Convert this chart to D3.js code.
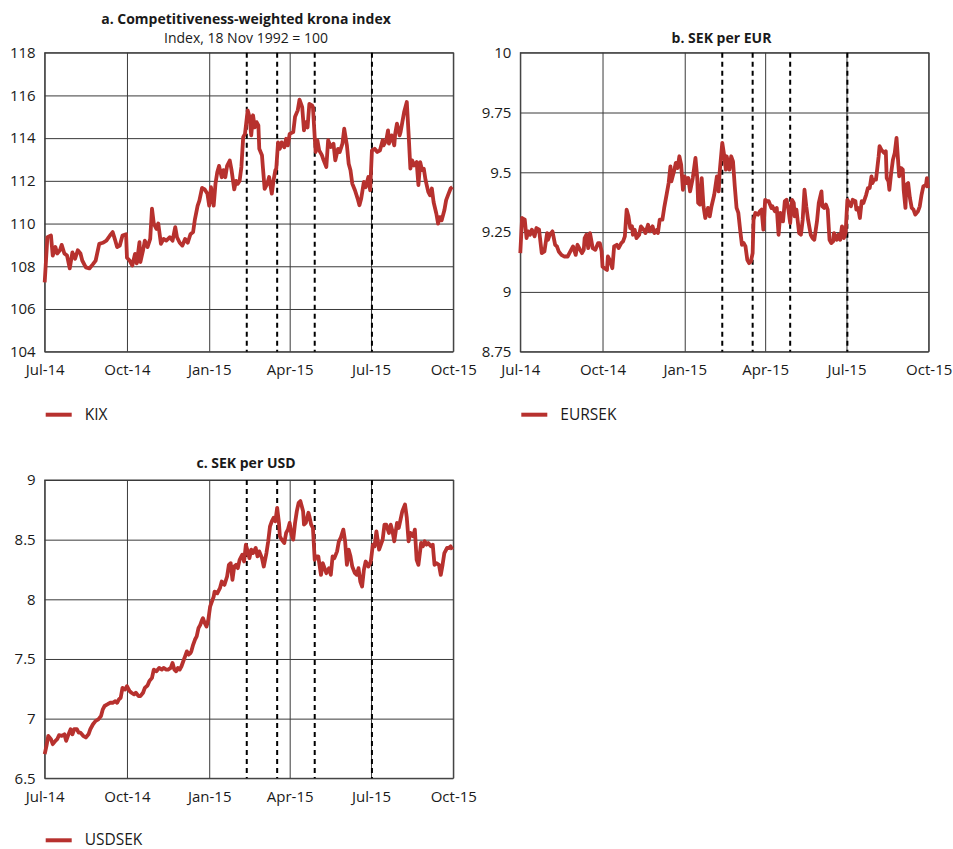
<!DOCTYPE html>
<html>
<head>
<meta charset="utf-8">
<script src="https://cdn.jsdelivr.net/npm/d3@7"></script>
<style>
  body { margin: 0; background: #fff; }
  text { font-family: "Open Sans", "DejaVu Sans", sans-serif; fill: #1a1a1a; }
</style>
</head>
<body>
<script>
// series: [days since 1 Jul 2014, value]
var kix = [[0,107.25],[3,109.36],[7,109.44],[9,108.5],[12,108.9],[14,108.6],[17,108.75],[19,109.0],[22,108.6],[25,108.5],[28,107.9],[31,108.65],[34,108.35],[37,108.75],[40,108.6],[42,108.27],[46,107.95],[50,107.9],[54,108.1],[57,108.27],[61,109.05],[65,109.1],[69,109.2],[73,109.44],[76,109.6],[79,109.2],[81,108.9],[84,108.97],[87,109.44],[91,109.5],[92,108.4],[95,108.27],[98,108.03],[101,108.58],[103,108.14],[106,109.13],[107,108.2],[110,108.75],[112,109.2],[115,108.9],[118,109.28],[120,110.7],[122,110.0],[125,109.75],[127,110.0],[130,109.05],[133,109.28],[136,109.2],[140,109.36],[143,109.2],[146,109.83],[148,109.36],[151,109.1],[154,108.97],[157,109.28],[160,109.1],[163,109.5],[166,109.6],[168,110.2],[171,110.83],[173,111.07],[176,111.67],[179,111.6],[182,111.4],[184,110.84],[186,111.7],[189,110.84],[191,111.86],[193,112.4],[195,112.7],[198,112.17],[200,112.5],[202,112.17],[204,112.7],[207,112.95],[209,112.5],[212,111.6],[214,112.0],[216,111.86],[218,112.0],[220,112.65],[222,114.05],[224,114.2],[227,115.3],[229,115.0],[231,114.13],[233,115.07],[235,114.5],[237,114.75],[239,114.6],[240,113.5],[243,113.2],[244,112.65],[246,111.63],[249,111.87],[251,112.18],[254,111.4],[256,112.03],[258,112.5],[259,112.57],[261,113.8],[263,113.5],[265,113.8],[268,113.57],[270,113.97],[272,113.66],[274,114.2],[278,114.28],[280,115.0],[283,115.3],[285,115.8],[288,115.45],[290,114.36],[292,114.75],[294,114.5],[296,115.6],[299,115.53],[300,115.45],[302,114.05],[303,113.35],[305,113.9],[307,113.43],[310,113.2],[312,112.96],[315,112.65],[317,113.9],[320,113.58],[323,113.74],[325,112.96],[328,113.5],[330,113.35],[333,113.74],[335,114.44],[338,113.66],[340,112.8],[342,112.5],[344,111.87],[347,111.56],[350,111.17],[352,110.86],[354,111.17],[357,111.95],[359,111.7],[362,112.18],[364,111.56],[366,113.43],[369,113.5],[372,113.35],[375,113.43],[378,113.9],[379,113.66],[382,113.9],[384,114.36],[385,113.74],[388,114.13],[391,113.66],[392,114.2],[394,114.68],[397,114.13],[398,114.28],[400,114.75],[402,115.22],[405,115.69],[407,114.2],[409,112.57],[411,112.96],[413,112.72],[416,112.88],[418,111.8],[420,112.88],[422,112.5],[424,112.57],[426,112.03],[429,111.48],[431,111.32],[433,111.64],[435,111.0],[438,110.47],[440,110.0],[442,110.3],[444,110.15],[447,110.62],[449,111.1],[451,111.32],[454,111.64],[456,111.71]];

var eursek = [[0,9.162],[2,9.309],[5,9.302],[7,9.225],[9,9.253],[11,9.239],[13,9.26],[16,9.232],[18,9.267],[21,9.26],[24,9.162],[27,9.169],[30,9.246],[31,9.218],[33,9.239],[36,9.253],[39,9.197],[41,9.19],[43,9.169],[46,9.155],[49,9.148],[53,9.148],[56,9.169],[59,9.19],[62,9.155],[64,9.197],[67,9.176],[69,9.162],[71,9.176],[72,9.225],[74,9.239],[76,9.183],[78,9.246],[81,9.183],[84,9.176],[87,9.204],[89,9.204],[91,9.169],[92,9.106],[94,9.099],[97,9.092],[98,9.148],[100,9.134],[103,9.099],[105,9.19],[108,9.197],[110,9.183],[113,9.204],[115,9.211],[117,9.232],[119,9.344],[121,9.316],[123,9.267],[125,9.274],[126,9.239],[128,9.26],[130,9.225],[133,9.239],[135,9.274],[138,9.26],[140,9.246],[143,9.281],[145,9.253],[148,9.274],[150,9.246],[153,9.26],[154,9.246],[156,9.302],[159,9.302],[161,9.351],[164,9.413],[166,9.455],[168,9.525],[169,9.462],[172,9.504],[174,9.539],[176,9.518],[178,9.567],[180,9.532],[182,9.427],[184,9.483],[186,9.455],[188,9.476],[190,9.42],[193,9.476],[195,9.532],[196,9.56],[198,9.476],[199,9.372],[201,9.365],[203,9.476],[205,9.358],[207,9.309],[210,9.351],[212,9.316],[214,9.358],[217,9.406],[220,9.483],[222,9.42],[223,9.497],[226,9.623],[228,9.574],[230,9.511],[231,9.567],[234,9.511],[236,9.567],[238,9.546],[240,9.441],[242,9.351],[244,9.33],[246,9.26],[248,9.197],[250,9.204],[252,9.19],[254,9.134],[256,9.12],[258,9.127],[260,9.162],[261,9.302],[263,9.33],[266,9.323],[268,9.337],[270,9.344],[272,9.26],[274,9.385],[276,9.379],[278,9.379],[281,9.351],[282,9.358],[285,9.337],[287,9.351],[289,9.239],[291,9.33],[293,9.316],[294,9.295],[296,9.379],[298,9.385],[300,9.344],[302,9.288],[304,9.385],[306,9.372],[307,9.316],[309,9.344],[312,9.246],[314,9.239],[316,9.302],[318,9.427],[320,9.358],[322,9.302],[325,9.239],[327,9.225],[329,9.218],[332,9.295],[334,9.372],[337,9.42],[338,9.358],[340,9.351],[342,9.365],[344,9.344],[346,9.218],[348,9.204],[350,9.211],[351,9.246],[354,9.218],[356,9.239],[358,9.218],[360,9.274],[362,9.225],[364,9.246],[366,9.385],[368,9.372],[370,9.358],[372,9.385],[375,9.379],[376,9.344],[378,9.351],[380,9.309],[382,9.379],[384,9.372],[387,9.406],[389,9.434],[391,9.434],[393,9.483],[394,9.455],[396,9.469],[398,9.469],[401,9.567],[402,9.609],[404,9.595],[407,9.581],[409,9.588],[410,9.476],[412,9.462],[413,9.427],[415,9.497],[417,9.553],[419,9.581],[421,9.644],[422,9.588],[424,9.483],[426,9.518],[428,9.511],[429,9.427],[431,9.351],[432,9.448],[434,9.455],[436,9.392],[438,9.351],[440,9.344],[442,9.323],[445,9.337],[447,9.358],[449,9.406],[451,9.441],[454,9.448],[455,9.476],[456,9.434]];

var usdsek = [[0,6.703],[2,6.772],[4,6.856],[7,6.828],[9,6.786],[12,6.814],[14,6.828],[16,6.861],[19,6.856],[22,6.869],[24,6.814],[26,6.856],[29,6.911],[31,6.869],[33,6.911],[36,6.911],[38,6.883],[40,6.883],[43,6.856],[46,6.842],[49,6.869],[51,6.911],[54,6.953],[57,6.981],[60,6.994],[63,7.022],[65,7.078],[67,7.106],[70,7.119],[73,7.133],[76,7.133],[79,7.147],[81,7.133],[83,7.161],[85,7.175],[87,7.258],[90,7.244],[92,7.272],[95,7.231],[97,7.217],[100,7.203],[102,7.217],[105,7.189],[107,7.189],[110,7.217],[112,7.258],[115,7.278],[117,7.314],[120,7.342],[122,7.411],[125,7.397],[128,7.425],[131,7.411],[133,7.425],[136,7.411],[138,7.411],[141,7.425],[143,7.467],[145,7.411],[147,7.397],[149,7.425],[151,7.411],[153,7.439],[155,7.481],[157,7.522],[159,7.564],[161,7.536],[163,7.55],[164,7.564],[166,7.619],[168,7.661],[170,7.689],[172,7.758],[174,7.786],[176,7.828],[177,7.842],[179,7.8],[181,7.772],[183,7.828],[185,7.938],[189,8.022],[190,8.065],[193,8.05],[196,8.093],[198,8.149],[201,8.121],[204,8.191],[206,8.289],[208,8.303],[210,8.163],[212,8.275],[214,8.289],[216,8.261],[218,8.331],[221,8.374],[223,8.317],[225,8.458],[227,8.402],[229,8.345],[231,8.416],[233,8.388],[236,8.43],[238,8.36],[240,8.402],[243,8.345],[245,8.275],[248,8.388],[250,8.486],[252,8.612],[254,8.654],[256,8.683],[258,8.654],[260,8.767],[262,8.64],[263,8.528],[265,8.5],[268,8.472],[270,8.556],[272,8.584],[274,8.64],[276,8.542],[278,8.5],[280,8.64],[282,8.739],[284,8.809],[286,8.823],[289,8.739],[290,8.626],[292,8.64],[295,8.725],[296,8.697],[298,8.626],[300,8.598],[302,8.331],[303,8.36],[306,8.36],[309,8.205],[311,8.303],[313,8.261],[315,8.219],[318,8.261],[320,8.205],[322,8.36],[324,8.345],[327,8.402],[329,8.486],[331,8.514],[334,8.584],[336,8.486],[338,8.289],[340,8.416],[342,8.36],[344,8.275],[347,8.219],[349,8.205],[351,8.261],[353,8.149],[355,8.107],[357,8.247],[359,8.317],[362,8.275],[364,8.303],[365,8.331],[367,8.458],[369,8.444],[371,8.57],[374,8.416],[376,8.458],[378,8.5],[380,8.626],[382,8.626],[385,8.556],[387,8.626],[389,8.57],[391,8.486],[394,8.64],[396,8.598],[398,8.669],[400,8.739],[403,8.795],[405,8.683],[407,8.486],[409,8.556],[412,8.528],[414,8.584],[416,8.331],[418,8.289],[421,8.472],[423,8.444],[425,8.486],[427,8.458],[429,8.472],[432,8.444],[434,8.458],[436,8.289],[438,8.303],[441,8.289],[443,8.205],[445,8.289],[447,8.388],[450,8.43],[452,8.43],[454,8.444],[456,8.416]];

var kixTicks = [104, 106, 108, 110, 112, 114, 116, 118];
var eurTicks = [8.75, 9, 9.25, 9.5, 9.75, 10];
var usdTicks = [6.5, 7, 7.5, 8, 8.5, 9];

// Riksbank decisions (dashed lines)
var eventDates = ["2015-02-12", "2015-03-18", "2015-04-29", "2015-07-02"];

var start = new Date(2014, 6, 1), end = new Date(2015, 9, 1);
var red = "#b7312e";

var svg = d3.select("body").append("svg")
  .attr("width", 953)
  .attr("height", 849);

var panels = [
  {left: 44.7, top: 52.7, width: 408.6, height: 299, data: kix, ticks: kixTicks, name: "KIX", titleY: -10, legendY: 63,
   titles: ["a. Competitiveness-weighted krona index", "Index, 18 Nov 1992 = 100"]},
  {left: 520.3, top: 52.7, width: 408.4, height: 299, data: eursek, ticks: eurTicks, name: "EURSEK", titleY: -10, legendY: 63,
   titles: ["b. SEK per EUR"]},
  {left: 44.7, top: 480, width: 408.6, height: 298.3, data: usdsek, ticks: usdTicks, name: "USDSEK", titleY: -12, legendY: 62,
   titles: ["c. SEK per USD"]}
];

panels.forEach(function (p) {
  var g = svg.append("g").attr("transform", "translate(" + p.left + "," + p.top + ")");
  var x = d3.scaleTime().domain([start, end]).range([0, p.width]);
  var y = d3.scaleLinear().domain([p.ticks[0], p.ticks[p.ticks.length - 1]]).range([p.height, 0]);

  // grid + y labels
  var ya = g.append("g")
    .call(d3.axisLeft(y).tickValues(p.ticks).tickSize(-p.width).tickSizeOuter(0).tickPadding(9).tickFormat(d3.format("~g")));
  var xa = g.append("g").attr("transform", "translate(0," + p.height + ")")
    .call(d3.axisBottom(x).tickValues(d3.timeMonth.every(3).range(start, d3.timeDay.offset(end, 1)))
      .tickSize(-p.height).tickSizeOuter(0).tickPadding(13).tickFormat(d3.timeFormat("%b-%y")));
  [ya, xa].forEach(function (a) {
    a.select(".domain").remove();
    a.selectAll("line").attr("stroke", "#3a3a3a").attr("stroke-width", 1);
    a.selectAll("text").style("font-size", "15px").attr("fill", "#1a1a1a");
  });

  g.append("rect")
    .attr("width", p.width).attr("height", p.height)
    .attr("fill", "none").attr("stroke", "#3a3a3a").attr("stroke-width", 1);

  // event lines
  g.selectAll(".event")
    .data(eventDates)
    .enter().append("line")
    .attr("x1", function (d) { return x(d3.timeParse("%Y-%m-%d")(d)); })
    .attr("x2", function (d) { return x(d3.timeParse("%Y-%m-%d")(d)); })
    .attr("y1", 0).attr("y2", p.height)
    .attr("stroke", "#000").attr("stroke-width", 2).attr("stroke-dasharray", "5,4");

  var line = d3.line()
    .x(function (d) { return x(d3.timeDay.offset(start, d[0])); })
    .y(function (d) { return y(d[1]); });

  g.append("path")
    .datum(p.data)
    .attr("d", line)
    .attr("fill", "none")
    .attr("stroke", red)
    .attr("stroke-width", 3.8)
    .attr("stroke-linejoin", "round");

  // titles
  var n = p.titles.length;
  p.titles.forEach(function (t, i) {
    g.append("text")
      .attr("x", p.width / 2 - 3)
      .attr("y", p.titleY - (n - 1 - i) * 19)
      .attr("text-anchor", "middle")
      .style("font-size", "14px")
      .style("font-weight", i === 0 ? "700" : "400")
      .text(t);
  });

  // legend
  var ly = p.height + p.legendY;
  g.append("line")
    .attr("x1", 1).attr("x2", 27).attr("y1", ly).attr("y2", ly)
    .attr("stroke", red).attr("stroke-width", 4);
  g.append("text")
    .attr("x", 40).attr("y", ly + 5)
    .style("font-size", "15.5px")
    .text(p.name);
});
</script>
</body>
</html>
